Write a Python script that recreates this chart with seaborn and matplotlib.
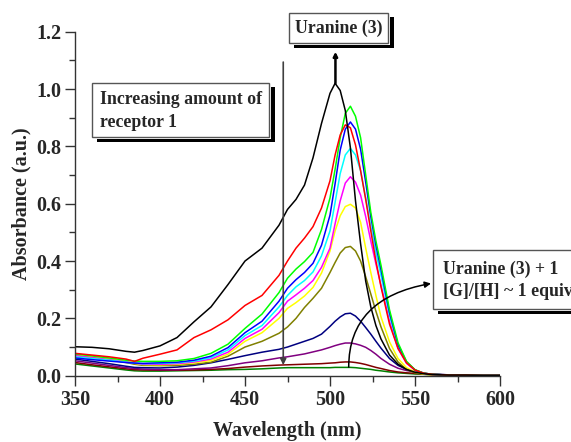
import matplotlib
matplotlib.use("Agg")
import matplotlib.pyplot as plt
from matplotlib.patches import Rectangle
from matplotlib.ticker import MultipleLocator, FormatStrFormatter
import pandas as pd
import seaborn as sns

# Wavelength grid (nm)
wavelength = [350, 360, 370, 380, 385, 390, 400, 410, 420, 430, 440, 450, 460,
              470, 475, 480, 485, 490, 495, 500, 503, 506, 509, 512, 515, 518,
              521, 524, 527, 530, 535, 540, 545, 550, 555, 560, 570, 580, 590, 600]

# Absorbance spectra, from free dye down to ~1 equiv of receptor
abs_black = [0.101, 0.099, 0.094, 0.085, 0.082, 0.088, 0.104, 0.133, 0.188, 0.240,
             0.318, 0.400, 0.445, 0.525, 0.580, 0.615, 0.665, 0.760, 0.880, 0.985,
             1.020, 0.995, 0.925, 0.795, 0.610, 0.460, 0.330, 0.240, 0.175, 0.128,
             0.072, 0.040, 0.022, 0.012, 0.007, 0.004, 0.002, 0.002, 0.001, 0.001]
abs_red = [0.078, 0.072, 0.066, 0.058, 0.050, 0.061, 0.075, 0.090, 0.133, 0.160,
           0.195, 0.245, 0.280, 0.350, 0.400, 0.445, 0.480, 0.520, 0.585, 0.680,
           0.770, 0.840, 0.875, 0.865, 0.805, 0.715, 0.615, 0.505, 0.400, 0.310,
           0.180, 0.095, 0.045, 0.020, 0.009, 0.005, 0.002, 0.002, 0.001, 0.001]
abs_green = [0.076, 0.069, 0.062, 0.054, 0.051, 0.050, 0.050, 0.052, 0.060, 0.078,
             0.110, 0.165, 0.215, 0.290, 0.340, 0.372, 0.398, 0.430, 0.510, 0.620,
             0.720, 0.830, 0.915, 0.940, 0.905, 0.830, 0.700, 0.570, 0.470, 0.385,
             0.230, 0.115, 0.050, 0.021, 0.009, 0.005, 0.002, 0.002, 0.001, 0.001]
abs_blue = [0.062, 0.056, 0.051, 0.046, 0.044, 0.043, 0.045, 0.047, 0.054, 0.068,
            0.098, 0.150, 0.190, 0.260, 0.305, 0.335, 0.360, 0.392, 0.455, 0.560,
            0.670, 0.787, 0.860, 0.885, 0.860, 0.790, 0.675, 0.555, 0.455, 0.370,
            0.220, 0.108, 0.048, 0.020, 0.009, 0.005, 0.002, 0.002, 0.001, 0.001]
abs_cyan = [0.066, 0.060, 0.054, 0.047, 0.044, 0.042, 0.043, 0.045, 0.051, 0.063,
            0.090, 0.140, 0.175, 0.240, 0.280, 0.310, 0.332, 0.362, 0.418, 0.505,
            0.605, 0.705, 0.770, 0.793, 0.770, 0.715, 0.620, 0.520, 0.430, 0.350,
            0.210, 0.105, 0.047, 0.020, 0.009, 0.005, 0.002, 0.002, 0.001, 0.001]
abs_magenta = [0.070, 0.063, 0.056, 0.048, 0.044, 0.040, 0.040, 0.042, 0.048, 0.058,
               0.082, 0.130, 0.162, 0.220, 0.260, 0.282, 0.305, 0.332, 0.378, 0.445,
               0.530, 0.610, 0.672, 0.694, 0.675, 0.630, 0.555, 0.470, 0.390, 0.315,
               0.190, 0.095, 0.043, 0.019, 0.008, 0.004, 0.002, 0.002, 0.001, 0.001]
abs_yellow = [0.074, 0.067, 0.059, 0.050, 0.043, 0.039, 0.038, 0.040, 0.045, 0.053,
              0.075, 0.120, 0.150, 0.200, 0.235, 0.255, 0.278, 0.308, 0.358, 0.435,
              0.505, 0.558, 0.590, 0.598, 0.585, 0.535, 0.445, 0.360, 0.280, 0.205,
              0.118, 0.060, 0.028, 0.013, 0.006, 0.003, 0.002, 0.001, 0.001, 0.001]
abs_olive = [0.072, 0.064, 0.056, 0.046, 0.040, 0.036, 0.035, 0.036, 0.040, 0.047,
             0.068, 0.100, 0.120, 0.148, 0.170, 0.200, 0.238, 0.270, 0.305, 0.360,
             0.395, 0.428, 0.447, 0.451, 0.435, 0.400, 0.345, 0.285, 0.225, 0.170,
             0.095, 0.048, 0.022, 0.010, 0.005, 0.003, 0.002, 0.001, 0.001, 0.001]
abs_navy = [0.058, 0.050, 0.042, 0.033, 0.029, 0.028, 0.027, 0.030, 0.036, 0.045,
            0.057, 0.070, 0.082, 0.092, 0.100, 0.110, 0.120, 0.130, 0.145, 0.172,
            0.190, 0.205, 0.216, 0.218, 0.208, 0.190, 0.168, 0.145, 0.120, 0.096,
            0.060, 0.036, 0.022, 0.013, 0.008, 0.005, 0.003, 0.002, 0.001, 0.001]
abs_purple = [0.052, 0.044, 0.036, 0.028, 0.025, 0.023, 0.021, 0.021, 0.024, 0.027,
              0.035, 0.045, 0.052, 0.062, 0.066, 0.071, 0.076, 0.083, 0.090, 0.099,
              0.105, 0.110, 0.114, 0.114, 0.111, 0.106, 0.099, 0.088, 0.075, 0.060,
              0.040, 0.026, 0.018, 0.013, 0.008, 0.005, 0.003, 0.002, 0.001, 0.001]
abs_darkred = [0.046, 0.038, 0.031, 0.024, 0.021, 0.020, 0.019, 0.019, 0.020, 0.022,
               0.025, 0.030, 0.034, 0.037, 0.038, 0.039, 0.040, 0.041, 0.042, 0.044,
               0.045, 0.047, 0.048, 0.048, 0.046, 0.043, 0.039, 0.034, 0.029, 0.025,
               0.018, 0.013, 0.010, 0.008, 0.006, 0.004, 0.003, 0.002, 0.001, 0.001]
abs_darkgreen = [0.041, 0.034, 0.027, 0.020, 0.017, 0.016, 0.016, 0.017, 0.018, 0.019,
                 0.021, 0.022, 0.024, 0.027, 0.028, 0.028, 0.028, 0.028, 0.028, 0.028,
                 0.029, 0.029, 0.029, 0.029, 0.028, 0.026, 0.024, 0.022, 0.019, 0.017,
                 0.013, 0.010, 0.008, 0.006, 0.005, 0.004, 0.003, 0.002, 0.001, 0.001]

series = {
    "darkgreen": abs_darkgreen, "darkred": abs_darkred, "purple": abs_purple,
    "navy": abs_navy, "olive": abs_olive, "yellow": abs_yellow,
    "magenta": abs_magenta, "cyan": abs_cyan, "blue": abs_blue,
    "green": abs_green, "red": abs_red, "black": abs_black,
}
colors = {
    "black": "#000000", "red": "#FF0000", "green": "#00FF00", "blue": "#0000FF",
    "cyan": "#00FFFF", "magenta": "#FF00FF", "yellow": "#FFFF00", "olive": "#808000",
    "navy": "#000080", "purple": "#800080", "darkred": "#800000", "darkgreen": "#008000",
}

df = pd.concat(
    [pd.DataFrame({"wl": wavelength, "A": v, "trace": k}) for k, v in series.items()],
    ignore_index=True,
)

sns.set_style("ticks")
plt.rcParams["font.family"] = ["Liberation Serif", "DejaVu Serif"]
plt.rcParams["font.weight"] = "bold"
plt.rcParams["axes.labelweight"] = "bold"

W, H = 571, 442
fig = plt.figure(figsize=(W / 100, H / 100), dpi=100)
ax = fig.add_axes([75 / W, 1 - 375.7 / H, 425 / W, 344 / H])

sns.lineplot(data=df, x="wl", y="A", hue="trace", hue_order=list(series.keys()),
             palette=colors, legend=False, linewidth=1.1, ax=ax, sort=False)

ax.set_xlim(350, 600)
ax.set_ylim(0, 1.2)
ax.xaxis.set_major_locator(MultipleLocator(50))
ax.xaxis.set_minor_locator(MultipleLocator(25))
ax.yaxis.set_major_locator(MultipleLocator(0.2))
ax.yaxis.set_minor_locator(MultipleLocator(0.1))
ax.yaxis.set_major_formatter(FormatStrFormatter("%.1f"))
ax.tick_params(which="major", direction="out", length=7, width=1, color="#333333",
               labelsize=14.5, pad=3)
ax.tick_params(which="minor", direction="out", length=4, width=1, color="#333333")
for lab in ax.get_xticklabels() + ax.get_yticklabels():
    lab.set_fontweight("bold")
for s in ("top", "right"):
    ax.spines[s].set_visible(False)
for s in ("left", "bottom"):
    ax.spines[s].set_color("#333333")
    ax.spines[s].set_linewidth(1)

ax.set_xlabel("Wavelength (nm)", fontsize=14.5, fontweight="bold", labelpad=8)
ax.set_ylabel("Absorbance (a.u.)", fontsize=14.5, fontweight="bold", labelpad=3)


def fx(x):
    return x / W


def fy(y):
    return 1 - y / H


def shadow_box(x0, y0, x1, y1, off=5):
    # drop shadow, white margin, then the framed box (pixel coords, top-left origin)
    fig.add_artist(Rectangle((fx(x0 + off), fy(y1 + off)), fx(x1 - x0 + 1), (y1 - y0 + 1) / H,
                             transform=fig.transFigure, facecolor="black",
                             edgecolor="none", zorder=4))
    fig.add_artist(Rectangle((fx(x0 - 1), fy(y1 + 2)), fx(x1 - x0 + 3), (y1 - y0 + 3) / H,
                             transform=fig.transFigure, facecolor="white",
                             edgecolor="none", zorder=5))
    fig.add_artist(Rectangle((fx(x0), fy(y1)), fx(x1 - x0), (y1 - y0) / H,
                             transform=fig.transFigure, facecolor="white",
                             edgecolor="#555555", linewidth=1, zorder=6))


shadow_box(289, 13, 388, 43)
fig.text(fx(338.5), fy(28.5), "Uranine (3)", ha="center", va="center",
         fontsize=12.8, fontweight="bold", zorder=7)

shadow_box(92, 83, 269, 137)
fig.text(fx(100), fy(99.5), "Increasing amount of", ha="left", va="center",
         fontsize=12.8, fontweight="bold", zorder=7)
fig.text(fx(100), fy(122.5), "receptor 1", ha="left", va="center",
         fontsize=12.8, fontweight="bold", zorder=7)

shadow_box(433, 250, 620, 309)
fig.text(fx(443), fy(269), "Uranine (3) + 1", ha="left", va="center",
         fontsize=12.8, fontweight="bold", zorder=7)
fig.text(fx(443), fy(291.5), "[G]/[H] ~ 1 equiv.", ha="left", va="center",
         fontsize=12.8, fontweight="bold", zorder=7)

# titration direction arrow
ax.annotate("", xy=(472.5, 0.037), xytext=(472.5, 1.094),
            arrowprops=dict(arrowstyle="-|>", color="#404040", lw=1.2,
                            mutation_scale=9, shrinkA=0, shrinkB=0))
# free dye peak pointer
ax.annotate("", xy=(503.2, 1.13), xytext=(503.2, 1.02),
            arrowprops=dict(arrowstyle="-|>", color="black", lw=1.8,
                            mutation_scale=6, shrinkA=0, shrinkB=0))
# complex pointer, curving from the lowest trace to its label
ax.annotate("", xy=(fx(431), fy(283.5)), xycoords="figure fraction",
            xytext=(511, 0.03), textcoords="data",
            arrowprops=dict(arrowstyle="-|>", color="black", lw=1.1,
                            mutation_scale=9, shrinkA=0, shrinkB=0,
                            connectionstyle="angle3,angleA=90,angleB=10"))

fig.savefig("out.png", dpi=100)
